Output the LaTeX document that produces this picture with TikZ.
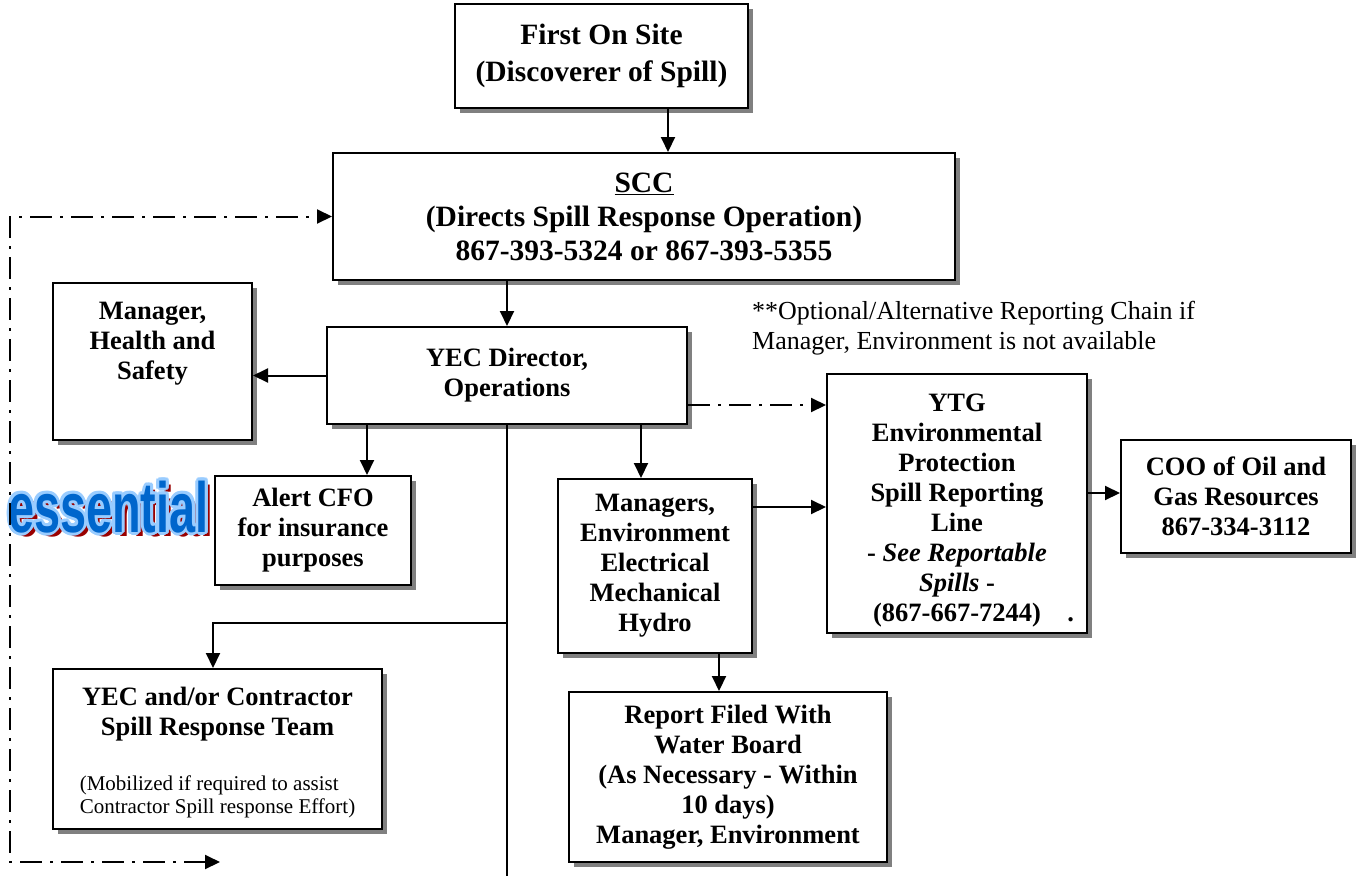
\documentclass[tikz,border=0pt]{standalone}
\usepackage{fontspec}
\setmainfont{Liberation Serif}
\newfontfamily\logofont{Liberation Sans}
\usetikzlibrary{arrows.meta,shadows}

\definecolor{logoblue}{HTML}{0066CC}
\definecolor{logoedge}{HTML}{99CCFF}
\definecolor{logored}{HTML}{990000}

\newcommand{\boxfont}{\fontsize{26.5}{30}\selectfont\bfseries}
\newcommand{\bigboxfont}{\fontsize{29.5}{34}\selectfont\bfseries}
\newcommand{\notefont}{\fontsize{21}{23}\selectfont\mdseries}

\tikzset{
  box/.style={draw, line width=2pt, fill=white, align=center, inner sep=0pt, font=\boxfont,
    drop shadow={shadow xshift=5pt, shadow yshift=-5pt, fill=black!50, opacity=1}},
  arr/.style={line width=2pt, ->},
  dashdot/.style={dash pattern=on 22pt off 8pt on 3pt off 8pt},
  logo/.style={font=\logofont\bfseries\fontsize{71}{71}\selectfont, inner sep=0pt, anchor=base west}
}

\begin{document}
\begin{tikzpicture}[x=1pt,y=-1pt,>={Triangle[length=15pt,width=14pt]}]
\useasboundingbox (0,0) rectangle (1356,878);

% boxes
\node[box, font=\fontsize{29.5}{37}\selectfont\bfseries, minimum width=293pt, minimum height=104pt] (first) at (601.5,56) {First On Site\\(Discoverer of Spill)};
\node[box, font=\bigboxfont, minimum width=622pt, minimum height=127pt] (scc) at (644,216.5) {\underline{SCC}\\(Directs Spill Response Operation)\\867-393-5324 or 867-393-5355};
\node[box, minimum width=199pt, minimum height=157pt] (hs) at (152.5,361.5) {Manager,\\Health and\\Safety\\[12pt]\mbox{}};
\node[box, minimum width=360pt, minimum height=97pt] (dir) at (507,375.5) {YEC Director,\\Operations};
\node[box, minimum width=196pt, minimum height=109pt] (cfo) at (313,530.5) {Alert CFO\\for insurance\\purposes};
\node[box, minimum width=194pt, minimum height=174pt] (env) at (655,566) {Managers,\\Environment\\Electrical\\Mechanical\\Hydro};
\node[box, minimum width=260pt, minimum height=259pt] (ytg) at (957,503.5) {\rule{0pt}{32pt}YTG\\Environmental\\Protection\\Spill Reporting\\Line\\- \textit{See Reportable}\\\textit{Spills} -\\(867-667-7244)\rlap{\hspace{1em}.}};
\node[box, minimum width=230pt, minimum height=113pt] (coo) at (1236,496.5) {COO of Oil and\\Gas Resources\\867-334-3112};
\node[box, minimum width=329pt, minimum height=160pt] (team) at (217.5,749) {\rule{0pt}{28pt}YEC and/or Contractor\\Spill Response Team\\[32pt]\notefont\begin{tabular}{@{}l@{}}(Mobilized if required to assist\\Contractor Spill response Effort)\end{tabular}};
\node[box, minimum width=318pt, minimum height=170pt] (report) at (728,777) {Report Filed With\\Water Board\\(As Necessary - Within\\10 days)\\Manager, Environment};

% note
\node[font=\fontsize{26}{30}\selectfont, align=left, anchor=north west, inner sep=0pt] (note) at (752,301) {**Optional/Alternative Reporting Chain if\\Manager, Environment is not available};

% logo
\node[logo, text=logored, xscale=0.66] (logo-shadow) at (13,536) {essential};
\foreach \a in {0,30,...,330}
  \node[logo, text=logoedge, xshift={3*cos(\a)}, yshift={3*sin(\a)}, xscale=0.66] (logo-edge-\a) at (8,532) {essential};
\node[logo, text=logoblue, xscale=0.66] (logo) at (8,532) {essential};

% connectors
\coordinate (junction) at (507,623);
\coordinate (bottom) at (507,876);
\coordinate (loopend) at (220,862);
\draw[arr] (668,0 |- first.south) -- (668,0 |- scc.north);
\draw[arr] (scc.south -| dir.north) -- (dir.north);
\draw[arr] (dir.west) -- (dir.west -| hs.east);
\draw[arr] (367,0 |- dir.south) -- (367,0 |- cfo.north);
\draw[arr] (641,0 |- dir.south) -- (641,0 |- env.north);
\draw[arr, dashdot] (0,405 -| dir.east) -- (0,405 -| ytg.west);
\draw[arr] (0,507 -| env.east) -- (0,507 -| ytg.west);
\draw[arr] (0,493 -| ytg.east) -- (0,493 -| coo.west);
\draw[arr] (719,0 |- env.south) -- (719,0 |- report.north);
\draw[line width=2pt] (dir.south) -- (bottom);
\draw[arr] (junction) -| (213,0 |- team.north);
\draw[arr, dashdot, <->] (loopend) -- (10,0 |- loopend) -- (10,0 |- scc.west) -- (scc.west);
\end{tikzpicture}
\end{document}
